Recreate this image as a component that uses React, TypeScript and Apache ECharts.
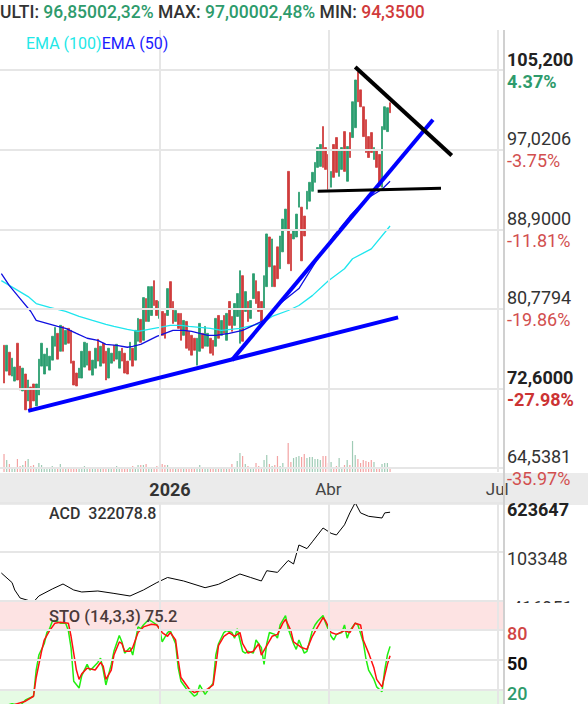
import React, { useEffect, useRef } from 'react';
import * as echarts from 'echarts';

// ---------- data ----------
const N_SLOTS = 188;
const FIRST_CANDLE = 1;
const xLabelIdx = [59, 122, 185];
const xLabelText = ['2026', 'Abr', 'Jul'];

const opens = [
  77.04, 74.40, 76.33, 73.89, 73.38, 77.25, 74.91, 72.37, 74.10, 71.35,
  72.77, 73.08, 70.84, 71.96, 74.91, 74.10, 74.91, 74.50, 75.52, 76.94,
  78.26, 76.43, 78.97, 77.14, 78.77, 78.57, 75.42, 74.20, 73.69, 73.69,
  74.81, 75.01, 76.43, 73.99, 74.70, 77.65, 74.91, 77.25, 76.43, 73.69,
  75.21, 77.04, 75.62, 74.70, 76.74, 76.23, 75.42, 75.52, 76.74, 75.52,
  77.45, 79.69, 77.55, 81.82, 79.48, 80.09, 83.65, 81.62, 79.79, 80.50,
  80.30, 80.09, 83.55, 81.52, 79.48, 80.30, 80.30, 78.06, 79.48, 78.47,
  78.06, 77.76, 75.01, 76.43, 78.26, 76.94, 76.94, 77.76, 77.55, 76.94,
  80.09, 78.06, 80.09, 77.55, 81.52, 79.99, 79.08, 79.99, 77.25, 84.16,
  80.50, 81.52, 79.79, 81.82, 83.65, 82.53, 81.52, 80.81, 83.04, 88.12,
  83.04, 85.17, 87.11, 84.87, 86.60, 88.94, 94.83, 88.43, 87.92, 88.12,
  91.17, 91.17, 90.26, 90.97, 91.78, 92.80, 93.71, 95.24, 95.34, 99.41,
  97.27, 96.56, 93.21, 97.58, 98.29, 94.32, 95.03, 98.90, 93.82, 98.80,
  98.29, 99.30, 105.00, 103.17, 101.44, 100.12, 98.39, 98.80, 96.05, 97.07,
  96.56, 93.21, 99.10, 98.90, 101.85,
];
const closes = [
  73.18, 77.04, 73.99, 75.72, 74.81, 73.49, 72.47, 74.70, 70.44, 73.49,
  70.44, 71.35, 73.08, 75.62, 77.25, 76.13, 76.74, 75.92, 77.96, 78.87,
  75.62, 79.08, 76.43, 78.57, 77.25, 75.21, 72.98, 72.88, 74.70, 76.43,
  77.35, 77.25, 74.50, 75.52, 76.74, 75.42, 76.94, 75.21, 73.49, 76.74,
  76.23, 75.42, 77.14, 76.43, 75.42, 74.20, 74.10, 77.35, 74.91, 78.57,
  79.79, 77.35, 81.92, 79.48, 83.04, 83.04, 81.11, 80.09, 81.52, 78.06,
  77.76, 82.84, 80.81, 79.28, 80.60, 78.77, 77.55, 79.58, 76.74, 76.53,
  76.03, 76.53, 77.76, 79.28, 76.74, 78.97, 78.26, 76.23, 76.03, 79.79,
  77.76, 79.58, 78.26, 80.30, 79.08, 78.47, 81.31, 82.33, 84.67, 77.45,
  82.53, 79.48, 81.62, 84.36, 81.31, 80.50, 79.48, 84.16, 88.43, 85.07,
  87.92, 83.04, 83.85, 88.22, 89.95, 90.97, 85.38, 84.67, 88.73, 90.46,
  92.70, 85.68, 88.22, 92.80, 93.71, 94.73, 95.75, 97.27, 97.58, 95.24,
  95.03, 93.00, 94.83, 94.22, 94.73, 97.07, 97.27, 94.83, 97.37, 96.25,
  101.95, 104.18, 101.95, 101.44, 98.39, 96.76, 96.25, 96.76, 97.27, 95.24,
  93.31, 99.41, 101.44, 101.34, 100.83,
];
const volumes = [
  18, 12, 8, 5, 5, 13, 6, 7, 11, 13, 6, 7, 5, 9, 7, 5, 4, 3, 6, 4,
  5, 8, 3, 3, 4, 4, 4, 5, 4, 5, 6, 5, 4, 5, 4, 3, 4, 5, 3, 4,
  4, 4, 6, 4, 3, 5, 3, 4, 6, 5, 7, 7, 7, 8, 5, 5, 5, 6, 7, 8,
  7, 7, 4, 5, 4, 5, 5, 4, 5, 3, 4, 4, 5, 7, 5, 3, 4, 3, 5, 4,
  4, 5, 3, 4, 5, 8, 5, 11, 19, 16, 8, 6, 5, 5, 9, 6, 5, 12, 17, 8,
  6, 7, 16, 6, 9, 5, 29, 10, 14, 15, 16, 15, 18, 14, 15, 15, 13, 13, 12, 16,
  16, 9, 10, 5, 6, 14, 5, 7, 12, 7, 31, 17, 13, 9, 12, 11, 10, 12, 10, 5,
  5, 8, 9, 9, 5,
];

const ema50 = [
  [0, 84.36], [3, 83.14], [7, 81.82], [11, 80.5], [13, 79.58], [17, 79.28], [21, 78.97],
  [24, 78.77], [28, 78.26], [32, 77.76], [36, 77.55], [39, 77.14], [43, 77.04], [47, 76.84],
  [49, 76.94], [52, 77.14], [55, 77.55], [58, 77.96], [62, 78.36], [64, 78.57], [68, 78.57],
  [71, 78.47], [74, 78.26], [77, 78.06], [80, 78.06], [85, 78.26], [90, 78.57], [94, 79.08],
  [98, 79.58], [104, 81.31], [111, 82.84], [118, 85.89], [124, 88.22], [130, 90.26],
  [136, 91.98], [142, 93.0], [145, 93.82],
];
const ema100 = [
  [0, 83.65], [5, 82.84], [10, 82.02], [13, 81.31], [18, 80.91], [24, 80.5], [29, 79.99],
  [34, 79.58], [39, 79.18], [42, 78.97], [47, 78.67], [51, 78.47], [55, 78.67], [59, 78.87],
  [63, 79.08], [67, 79.08], [70, 78.97], [74, 78.87], [78, 78.77], [82, 78.57], [89, 78.77],
  [97, 79.28], [101, 79.99], [107, 80.6], [111, 81.11], [116, 82.12], [122, 83.65],
  [128, 84.87], [131, 85.89], [138, 86.9], [145, 89.24],
];

const trendBlueLong = [[10, 70.33], [148, 79.89]];
const trendBlueSteep = [[86, 75.52], [161, 100.12]];
const trendBlackDiag = [[132, 105.5], [168, 96.46]];
const trendBlackFlat = [[118, 92.8], [164, 93.1]];

const acd = [
  [0, -119613], [4, -221545], [5, -300119], [7, -385063], [12, -427535], [14, -363827],
  [19, -289501], [23, -236411], [27, -300119], [30, -321355], [36, -310737], [42, -336282],
  [48, -363827], [53, -300119], [58, -221545], [62, -167394], [68, -204557], [76, -275693],
  [81, -239597], [89, -130231], [93, -167394], [97, -204557], [99, -95171], [103, -113221],
  [107, 13112], [109, -24051], [111, 177691], [114, 139467], [116, 211669], [120, 358197],
  [123, 301922], [125, 283871], [128, 392175], [130, 518529], [132, 626832], [134, 518529],
  [137, 482428], [142, 464377], [143, 518529], [145, 525854],
];

const stoK = [
  [0, 3.4], [4, 6.3], [7, 4.5], [9, 10.1], [12, 13.8], [13, 39.8], [14, 54.7], [16, 65.9],
  [17, 77.0], [18, 80.8], [19, 88.2], [20, 88.9], [22, 86.3], [24, 86.3], [25, 78.9],
  [26, 62.1], [27, 28.7], [29, 22.0], [30, 34.3], [32, 45.4], [33, 39.8], [34, 41.7],
  [36, 47.3], [37, 51.7], [38, 39.8], [39, 25.0], [41, 45.4], [42, 58.4], [44, 74.1],
  [45, 67.7], [46, 56.6], [48, 62.1], [49, 54.7], [51, 82.6], [52, 80.8], [53, 84.5],
  [55, 90.0], [56, 88.2], [58, 84.5], [59, 80.8], [60, 67.7], [62, 77.0], [63, 78.9],
  [65, 65.9], [66, 41.7], [67, 28.7], [69, 21.2], [70, 19.4], [72, 13.8], [73, 15.7],
  [74, 25.0], [76, 15.7], [77, 19.4], [79, 26.8], [80, 54.7], [81, 65.9], [83, 77.0],
  [84, 78.9], [86, 77.0], [87, 71.4], [88, 80.8], [90, 58.4], [91, 56.6], [92, 58.4],
  [94, 56.6], [95, 69.6], [97, 62.1], [98, 45.4], [99, 65.9], [100, 77.0], [102, 75.2],
  [103, 71.4], [104, 84.5], [106, 93.8], [107, 80.8], [109, 65.9], [110, 60.3], [111, 69.6],
  [113, 56.6], [114, 58.4], [116, 78.9], [117, 84.5], [118, 88.2], [120, 93.8], [121, 86.3],
  [123, 73.3], [124, 69.6], [125, 75.2], [127, 77.0], [128, 84.5], [129, 71.4], [130, 78.9],
  [132, 86.3], [133, 84.5], [135, 67.7], [136, 51.0], [137, 39.8], [139, 30.5], [140, 23.1],
  [142, 18.3], [143, 39.8], [144, 54.7], [145, 63.3],
];
const stoD = [
  [0, 4.5], [5, 5.6], [9, 8.9], [12, 13.8], [13, 32.4], [15, 58.4], [16, 69.6], [18, 78.9],
  [20, 86.3], [22, 87.1], [25, 86.3], [26, 73.3], [28, 39.8], [29, 30.5], [30, 36.1],
  [32, 41.7], [35, 39.8], [37, 47.3], [38, 43.6], [39, 30.5], [41, 39.8], [42, 54.7],
  [44, 67.7], [45, 65.9], [46, 58.4], [48, 58.4], [49, 62.1], [51, 77.0], [53, 82.6],
  [56, 85.2], [58, 84.5], [60, 77.0], [62, 73.3], [63, 77.0], [65, 69.6], [66, 49.1],
  [67, 32.4], [69, 25.0], [70, 21.2], [72, 17.5], [74, 19.4], [76, 19.4], [77, 21.2],
  [79, 25.0], [80, 43.6], [81, 64.0], [83, 73.3], [85, 77.0], [87, 73.3], [89, 77.0],
  [90, 65.9], [92, 56.6], [94, 58.4], [96, 65.9], [97, 54.7], [99, 64.0], [101, 73.3],
  [103, 75.2], [105, 86.3], [106, 90.0], [108, 78.9], [109, 67.7], [111, 64.0], [112, 62.1],
  [114, 60.3], [116, 73.3], [118, 82.6], [120, 91.9], [121, 88.2], [123, 77.0], [125, 75.2],
  [128, 78.9], [130, 77.0], [132, 86.3], [134, 84.5], [135, 69.6], [137, 56.6], [139, 41.7],
  [140, 30.5], [142, 23.1], [143, 34.3], [144, 45.4], [145, 54.0],
];

const priceTicks = [105.2, 97.0206, 88.9, 80.7794, 72.6, 64.5381];
const priceTickText = ['105,200', '97,0206', '88,9000', '80,7794', '72,6000', '64,5381'];
const pctTickText = ['4.37%', '-3.75%', '-11.81%', '-19.86%', '-27.98%', '-35.97%'];
const priceTickBold = [true, false, false, false, true, false];
const pctTickStyle = ['pg', 'pr', 'pr', 'pr', 'prb', 'pr'];

const acdTicks = [623647, 103348, -416951];
const acdTickText = ['623647', '103348', '-416951'];
const stoTicks = [80, 50, 20];
const stoTickText = ['80', '50', '20'];

const headerParts = [
  ['k', 'ULTI: '], ['g', '96,85002,32% '], ['k', 'MAX: '], ['g', '97,00002,48% '],
  ['k', 'MIN: '], ['r', '94,3500'],
];

// ---------- styles ----------
const FONT = 'Roboto';
const GREEN = '#2a9d6f';
const RED = '#cf3c3c';
const GRID_LINE = '#e6e6e6';

export default function App() {
  const ref = useRef<HTMLDivElement>(null);

  useEffect(() => {
    document.body.style.margin = '0';
    if (!ref.current) return;
    const chart = echarts.init(ref.current, undefined, { renderer: 'svg' });

    const cats = Array.from({ length: N_SLOTS }, (_, i) => String(i));
    const candleData = cats.map((_, i) => {
      const k = i - FIRST_CANDLE;
      if (k < 0 || k >= opens.length) return '-';
      const o = opens[k];
      const c = closes[k];
      return [o, c, Math.min(o, c), Math.max(o, c)];
    });
    const volData = cats.map((_, i) => {
      const k = i - FIRST_CANDLE;
      if (k < 0 || k >= volumes.length) return '-';
      const up = closes[k] >= opens[k];
      return {
        value: volumes[k],
        itemStyle: { color: up ? '#9fcbb5' : '#f3a3a3' },
      };
    });

    const vLines = xLabelIdx.map((x) => ({ xAxis: x, label: { show: false } }));

    const priceLines = priceTicks.map((v, k) => ({
      yAxis: v,
      label: {
        show: true,
        formatter: `{${priceTickBold[k] ? 'vb' : 'v'}|${priceTickText[k]}}\n{${pctTickStyle[k]}|${pctTickText[k]}}`,
      },
    }));

    const acdLines = acdTicks.map((v, k) => ({
      yAxis: v,
      label: {
        show: true,
        formatter: `{${k === 0 ? 'b' : 'n'}|${acdTickText[k]}}`,
      },
    }));

    const stoStyleKeys = ['r', 'b', 'g'];
    const stoLines = stoTicks.map((v, k) => ({
      yAxis: v,
      label: { show: true, formatter: `{${stoStyleKeys[k]}|${stoTickText[k]}}` },
    }));

    const catAxis = (gridIndex: number, showLabels: boolean) => ({
      type: 'category',
      gridIndex,
      data: cats,
      boundaryGap: true,
      axisLine: { show: false },
      axisTick: { show: false },
      splitLine: { show: false },
      axisLabel: showLabels
        ? {
            show: true,
            margin: 8,
            interval: (idx: number) => xLabelIdx.includes(idx),
            formatter: (_v: string, idx: number) => {
              const k = xLabelIdx.indexOf(idx);
              if (k < 0) return '';
              return k === 0 ? `{b|${xLabelText[k]}}` : `{n|${xLabelText[k]}}`;
            },
            rich: {
              b: { fontFamily: FONT, fontSize: 18, fontWeight: 'bold', color: '#333', padding: [0, 0, 0, 21] },
              n: { fontFamily: FONT, fontSize: 17, color: '#444' },
            },
          }
        : { show: false },
    });

    const lineLabelBase = {
      show: true,
      position: 'end',
      distance: 3,
      fontFamily: FONT,
    };

    const option: any = {
      animation: false,
      backgroundColor: '#ffffff',
      grid: [
        { left: 0, right: 84, top: 30, bottom: 232 },
        { left: 0, right: 84, top: 436, bottom: 232 },
        { left: 0, right: 84, top: 503, bottom: 103 },
        { left: 0, right: 84, top: 601, bottom: 0 },
      ],
      xAxis: [catAxis(0, true), catAxis(1, false), catAxis(2, false), catAxis(3, false)],
      yAxis: [
        { type: 'value', gridIndex: 0, min: 64.078, max: 109.292, show: false, splitLine: { show: false } },
        { type: 'value', gridIndex: 1, min: 0, max: 36, show: false, splitLine: { show: false } },
        { type: 'value', gridIndex: 2, min: -416951, max: 623647, show: false, splitLine: { show: false } },
        { type: 'value', gridIndex: 3, min: 6.1, max: 108.3, show: false, splitLine: { show: false } },
      ],
      graphic: [
        { type: 'rect', z: 0, shape: { x: 0, y: 473, width: 588, height: 32 }, style: { fill: '#ebebeb' } },
        {
          type: 'text', x: 0, y: 3, z: 10,
          style: {
            text: headerParts.map(([s, t]) => `{${s}|${t}}`).join(''),
            rich: {
              k: { fontFamily: FONT, fontSize: 17.5, fontWeight: 500, fill: '#333' },
              g: { fontFamily: FONT, fontSize: 17.5, fontWeight: 500, fill: '#2e9b6c' },
              r: { fontFamily: FONT, fontSize: 17.5, fontWeight: 500, fill: '#d13b3b' },
            },
          },
        },
        {
          type: 'text', x: 26, y: 35, z: 10,
          style: {
            text: '{c|EMA (100)}{b|EMA (50)}',
            rich: {
              c: { fontFamily: FONT, fontSize: 16, fill: '#22e8e8' },
              b: { fontFamily: FONT, fontSize: 16, fill: '#1a1aff' },
            },
          },
        },
        {
          type: 'text', x: 49, y: 505, z: 10,
          style: { text: 'ACD  322078.8', fontFamily: FONT, fontSize: 16, fontWeight: 500, fill: '#333' },
        },
        {
          type: 'text', x: 49, y: 608, z: 10,
          style: { text: 'STO (14,3,3) 75.2', fontFamily: FONT, fontSize: 16.5, fontWeight: 500, fill: '#4a3a3a' },
        },
        { type: 'rect', z: 50, shape: { x: 505, y: 603, width: 83, height: 22 }, style: { fill: '#ffffff' } },
        { type: 'line', z: 60, shape: { x1: 504, y1: 30, x2: 504, y2: 704 }, style: { stroke: '#d0d0d0', lineWidth: 2 } },
      ],
      series: [
        // grid 0 : gridlines + labels
        {
          type: 'line', xAxisIndex: 0, yAxisIndex: 0, data: [], z: 1, silent: true,
          markLine: {
            silent: true, symbol: ['none', 'none'], animation: false,
            lineStyle: { color: GRID_LINE, width: 2, type: 'solid' },
            label: {
              ...lineLabelBase,
              rich: {
                v: { fontFamily: FONT, fontSize: 18, color: '#333', lineHeight: 22 },
                vb: { fontFamily: FONT, fontSize: 18, fontWeight: 'bold', color: '#222', lineHeight: 22 },
                pg: { fontFamily: FONT, fontSize: 18, fontWeight: 'bold', color: '#2e9b6c', lineHeight: 22 },
                pr: { fontFamily: FONT, fontSize: 18, color: '#d24f4f', lineHeight: 22 },
                prb: { fontFamily: FONT, fontSize: 18, fontWeight: 'bold', color: '#cc3333', lineHeight: 22 },
              },
            },
            data: [...priceLines, ...vLines],
          },
        },
        {
          type: 'candlestick', xAxisIndex: 0, yAxisIndex: 0, data: candleData, z: 3,
          barWidth: 2.2,
          itemStyle: { color: GREEN, color0: RED, borderColor: GREEN, borderColor0: RED, borderWidth: 0.8 },
        },
        {
          type: 'line', xAxisIndex: 0, yAxisIndex: 0, data: ema100, z: 4, symbol: 'none',
          lineStyle: { color: '#1ee6ee', width: 1.3 },
        },
        {
          type: 'line', xAxisIndex: 0, yAxisIndex: 0, data: ema50, z: 4, symbol: 'none',
          lineStyle: { color: '#1010e0', width: 1.3 },
        },
        { type: 'line', xAxisIndex: 0, yAxisIndex: 0, data: trendBlueLong, z: 5, symbol: 'none', lineStyle: { color: '#0000ff', width: 4 } },
        { type: 'line', xAxisIndex: 0, yAxisIndex: 0, data: trendBlueSteep, z: 5, symbol: 'none', lineStyle: { color: '#0000ff', width: 4 } },
        { type: 'line', xAxisIndex: 0, yAxisIndex: 0, data: trendBlackDiag, z: 5, symbol: 'none', lineStyle: { color: '#000000', width: 4 } },
        { type: 'line', xAxisIndex: 0, yAxisIndex: 0, data: trendBlackFlat, z: 5, symbol: 'none', lineStyle: { color: '#000000', width: 3 } },
        // grid 1: volume
        {
          type: 'bar', xAxisIndex: 1, yAxisIndex: 1, data: volData, barWidth: 1.2, z: 2,
        },
        // grid 2: ACD
        {
          type: 'line', xAxisIndex: 2, yAxisIndex: 2, data: [], z: 1, silent: true,
          markLine: {
            silent: true, symbol: ['none', 'none'], animation: false,
            lineStyle: { color: GRID_LINE, width: 2, type: 'solid' },
            label: {
              ...lineLabelBase,
              padding: [12, 0, 0, 0],
              rich: {
                b: { fontFamily: FONT, fontSize: 18, fontWeight: 'bold', color: '#222' },
                n: { fontFamily: FONT, fontSize: 18, color: '#333' },
              },
            },
            data: [...acdLines, ...vLines],
          },
        },
        {
          type: 'line', xAxisIndex: 2, yAxisIndex: 2, data: acd, z: 3, symbol: 'none',
          lineStyle: { color: '#000', width: 1 },
        },
        // grid 3: STO
        {
          type: 'line', xAxisIndex: 3, yAxisIndex: 3, data: [], z: 1, silent: true,
          markArea: {
            silent: true,
            data: [
              [{ yAxis: 80, itemStyle: { color: '#fde3e3' } }, { yAxis: 108.3 }],
              [{ yAxis: 6.1, itemStyle: { color: '#e6fbe4' } }, { yAxis: 20 }],
            ],
          },
          markLine: {
            silent: true, symbol: ['none', 'none'], animation: false,
            lineStyle: { color: GRID_LINE, width: 2, type: 'solid' },
            label: {
              ...lineLabelBase,
              padding: [8, 0, 0, 0],
              rich: {
                r: { fontFamily: FONT, fontSize: 18, fontWeight: 500, color: '#d04545' },
                b: { fontFamily: FONT, fontSize: 18, fontWeight: 'bold', color: '#111' },
                g: { fontFamily: FONT, fontSize: 18, fontWeight: 500, color: '#2e9b6c' },
              },
            },
            data: [...stoLines, ...vLines],
          },
        },
        {
          type: 'line', xAxisIndex: 3, yAxisIndex: 3, data: stoK, z: 3, symbol: 'none',
          lineStyle: { color: '#22ee11', width: 1.5 },
        },
        {
          type: 'line', xAxisIndex: 3, yAxisIndex: 3, data: stoD, z: 4, symbol: 'none',
          lineStyle: { color: '#ff1010', width: 1.5 },
        },
      ],
    };

    chart.setOption(option);
    return () => chart.dispose();
  }, []);

  return <div ref={ref} style={{ width: 588, height: 704 }} />;
}
